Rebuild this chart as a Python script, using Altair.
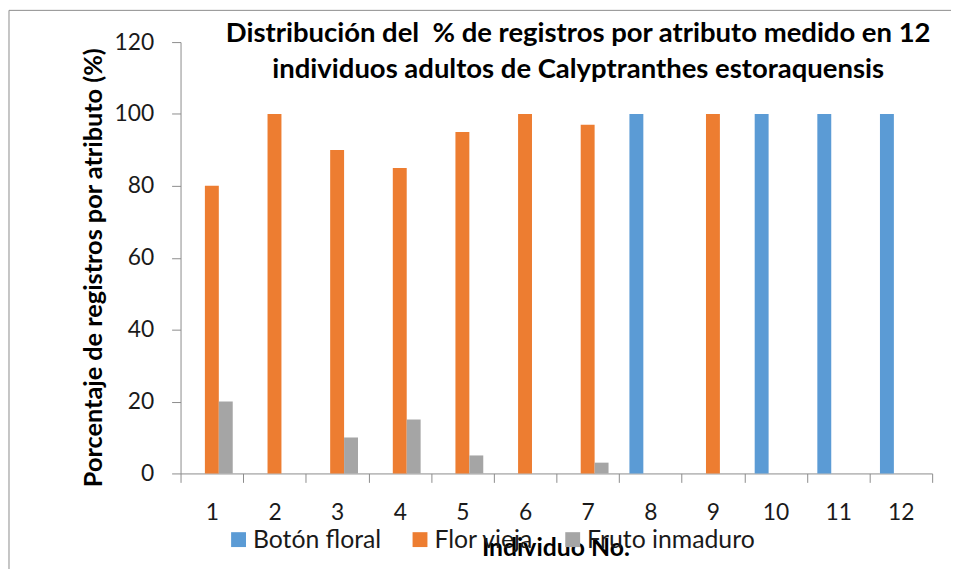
import altair as alt
import pandas as pd

individuos = [str(i) for i in range(1, 13)]
series = ["Botón floral", "Flor vieja", "Fruto inmaduro"]
colores = ["#5B9BD5", "#ED7D31", "#A5A5A5"]
boton_floral = [0, 0, 0, 0, 0, 0, 0, 100, 0, 100, 100, 100]
flor_vieja = [80, 100, 90, 85, 95, 100, 97, 0, 100, 0, 0, 0]
fruto_inmaduro = [20, 0, 10, 15, 5, 0, 3, 0, 0, 0, 0, 0]
y_ticks = [0, 20, 40, 60, 80, 100, 120]
titulo = ["Distribución del \u00a0% de registros por atributo medido en 12",
          "individuos adultos de Calyptranthes estoraquensis"]

rows = []
for name, vals in zip(series, [boton_floral, flor_vieja, fruto_inmaduro]):
    for ind, v in zip(individuos, vals):
        rows.append({"Individuo": ind, "Serie": name, "Valor": v})
df = pd.DataFrame(rows)

FONT = "Lato"
W, H = 758, 435

bars = alt.Chart(df).mark_bar().encode(
    x=alt.X("Individuo:N", sort=individuos,
            scale=alt.Scale(paddingInner=0, paddingOuter=0),
            axis=alt.Axis(title="Individuo No.", labelAngle=0, tickBand="extent",
                          tickSize=9, labelPadding=19, labelFontSize=23,
                          labelFont=FONT, labelColor="#1a1a1a",
                          domainColor="#8c8c8c", tickColor="#8c8c8c",
                          titleFont=FONT, titleFontSize=25, titleFontWeight="bold",
                          titleColor="#000000", titleX=378, titleY=83,
                          titleAlign="center", titleBaseline="alphabetic")),
    xOffset=alt.XOffset("Serie:N", sort=series,
                        scale=alt.Scale(paddingInner=0, paddingOuter=0.75)),
    y=alt.Y("Valor:Q", scale=alt.Scale(domain=[0, 120], nice=False),
            axis=alt.Axis(values=y_ticks, grid=False, tickSize=9, labelPadding=18,
                          labelFontSize=23, labelFont=FONT, labelColor="#1a1a1a",
                          domainColor="#8c8c8c", tickColor="#8c8c8c",
                          title="Porcentaje de registros por atributo (%)",
                          titleFont=FONT, titleFontSize=25.5, titleFontWeight="bold",
                          titleColor="#000000", titleX=-88, titleY=227,
                          titleAlign="center", titleBaseline="middle", titleAngle=-90,
                          titleLimit=600)),
    color=alt.Color("Serie:N", sort=series,
                    scale=alt.Scale(domain=series, range=colores),
                    legend=alt.Legend(orient="none", legendX=46, legendY=489,
                                      direction="horizontal", title=None,
                                      symbolType="square", symbolSize=225,
                                      symbolStrokeWidth=0, labelFontSize=25,
                                      labelFont=FONT, labelColor="#1a1a1a",
                                      labelOffset=2, columnPadding=26,
                                      labelLimit=400)),
)

title_text = alt.Chart(pd.DataFrame({"t": [0]})).mark_text(
    font=FONT, fontSize=27.7, fontWeight="bold", align="center",
    baseline="alphabetic", lineHeight=36, color="#000000"
).encode(x=alt.value(401), y=alt.value(0), text=alt.value(titulo))

border_left = alt.Chart(pd.DataFrame({"t": [0]})).mark_rule(
    color="#8c8c8c", strokeWidth=1
).encode(x=alt.value(-173), y=alt.value(-32), y2=alt.value(H + 100))

border_top = alt.Chart(pd.DataFrame({"t": [0]})).mark_rule(
    color="#8c8c8c", strokeWidth=1
).encode(x=alt.value(-173), x2=alt.value(W + 30), y=alt.value(-32))

chart = alt.layer(bars, title_text, border_left, border_top).properties(
    width=W, height=H,
    autosize=alt.AutoSizeParams(type="none"),
    padding={"left": 174, "top": 32, "right": 19, "bottom": 94},
).configure_view(stroke=None)

chart.save("out.html", embed_options={"renderer": "svg", "actions": False})
